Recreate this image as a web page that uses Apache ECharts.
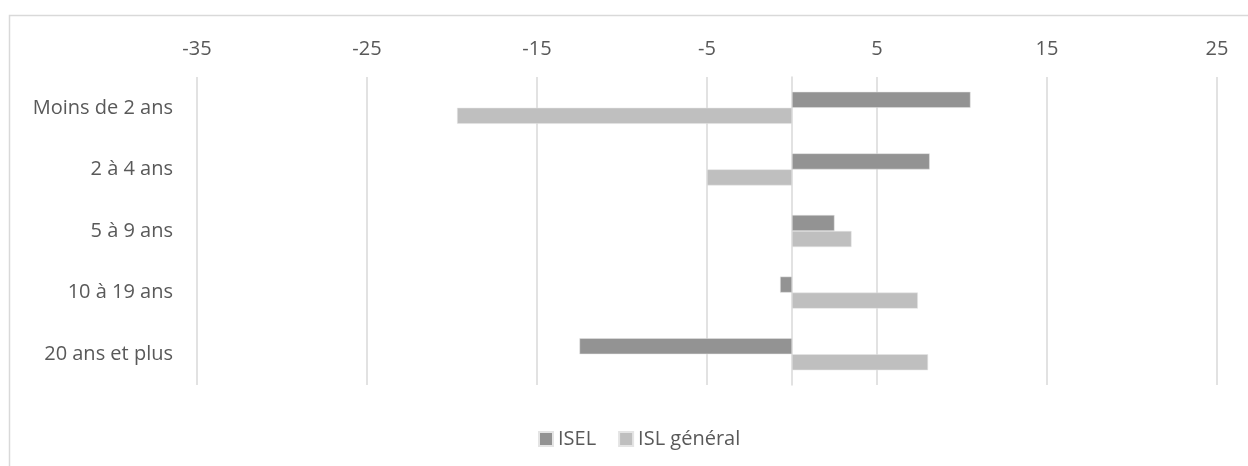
<!DOCTYPE html>
<html>
<head>
<meta charset="utf-8">
<script src="https://cdn.jsdelivr.net/npm/echarts@6/dist/echarts.min.js"></script>
<style>html,body{margin:0;padding:0;background:#fff}#c{width:1248px;height:466px}</style>
</head>
<body>
<div id="c"></div>
<script>
var categories = ['Moins de 2 ans', '2 à 4 ans', '5 à 9 ans', '10 à 19 ans', '20 ans et plus'];
var iselValues = [10.5, 8.1, 2.5, -0.7, -12.5];
var islValues = [-19.7, -5.0, 3.5, 7.4, 8.0];
var seriesNames = ['ISEL', 'ISL général'];

var chart = echarts.init(document.getElementById('c'), null, {renderer: 'canvas'});
var font = '"Open Sans", Lato, sans-serif';
chart.setOption({
  animation: false,
  backgroundColor: '#fff',
  graphic: [{
    type: 'rect', silent: true, z: -1,
    shape: {x: 9.5, y: 15.5, width: 1400, height: 600},
    style: {fill: 'none', stroke: '#d9d9d9', lineWidth: 1.5}
  }],
  grid: {left: 197, right: 31, top: 77, bottom: 81, containLabel: false},
  legend: {
    data: seriesNames, top: 429, left: 538, padding: 0,
    itemWidth: 14, itemHeight: 14, itemGap: 22,
    icon: 'rect',
    textStyle: {color: '#595959', fontSize: 20, fontFamily: font}
  },
  xAxis: {
    type: 'value', position: 'top', min: -35, max: 25, interval: 10,
    axisLine: {show: false}, axisTick: {show: false},
    axisLabel: {color: '#595959', fontSize: 20, fontFamily: font, margin: 18},
    splitLine: {show: true, lineStyle: {color: '#d9d9d9', width: 1.5}}
  },
  yAxis: {
    type: 'category', data: categories, inverse: true,
    axisLine: {show: true, onZero: true, lineStyle: {color: '#d9d9d9', width: 1.5}},
    axisTick: {show: false},
    axisLabel: {color: '#595959', fontSize: 20, fontFamily: font, margin: 24}
  },
  series: [
    {name: seriesNames[0], type: 'bar', data: iselValues, barWidth: 16, barGap: '0%',
     itemStyle: {color: '#939393', borderColor: '#e4e4e4', borderWidth: 0.5}},
    {name: seriesNames[1], type: 'bar', data: islValues, barWidth: 16, barGap: '0%',
     itemStyle: {color: '#bfbfbf', borderColor: '#e4e4e4', borderWidth: 0.5}}
  ]
});
</script>
</body>
</html>
